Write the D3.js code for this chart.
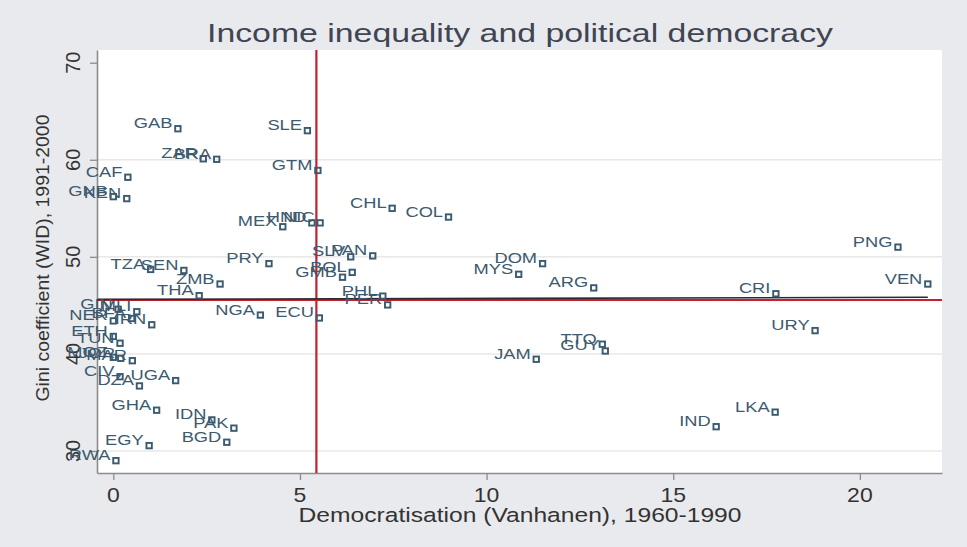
<!DOCTYPE html>
<html>
<head>
<meta charset="utf-8">
<title>Income inequality and political democracy</title>
<style>
body { margin: 0; background: #e9eaed; }
text { font-family: "Liberation Sans", Arial, sans-serif; }
</style>
</head>
<body>
<svg id="chart" width="967" height="547"></svg>
<script src="https://d3js.org/d3.v7.min.js"></script>
<script>
// country codes, democratisation 1960-1990 (x) and gini 1991-2000 (y)
var countries = ["GAB","SLE","ZAR","BRA","GTM","CAF","GNB","KEN","CHL","COL",
                 "MEX","HND","NIC","PNG","SLV","PAN","DOM","PRY","TZA","SEN",
                 "BOL","MYS","GMB","ZMB","ARG","VEN","CRI","THA","PHL","PER",
                 "NGA","ECU","GIN","MLI","NER","BFA","IRN","URY","TTO","GUY",
                 "ETH","TUN","MOZ","JOR","MAR","JAM","CIV","UGA","DZA","GHA",
                 "LKA","IDN","PAK","IND","BGD","EGY","RWA"];
var democ = [1.73, 5.20, 2.41, 2.77, 5.48, 0.39, 0.00, 0.36, 7.47, 8.98,
             4.54, 5.32, 5.54, 21.02, 6.36, 6.95, 11.50, 4.17, 1.00, 1.89,
             6.40, 10.86, 6.14, 2.86, 12.87, 21.82, 17.75, 2.30, 7.22, 7.35,
             3.94, 5.52, 0.13, 0.63, 0.00, 0.49, 1.03, 18.80, 13.10, 13.18,
             0.00, 0.18, 0.00, 0.20, 0.51, 11.33, 0.18, 1.67, 0.70, 1.16,
             17.73, 2.64, 3.23, 16.15, 3.04, 0.96, 0.07];
var gini = [63.2, 63.0, 60.1, 60.05, 58.9, 58.2, 56.2, 56.0, 55.0, 54.1,
            53.1, 53.5, 53.5, 51.0, 50.0, 50.1, 49.3, 49.3, 48.7, 48.6,
            48.4, 48.2, 47.9, 47.2, 46.8, 47.2, 46.2, 46.0, 45.95, 45.05,
            44.0, 43.7, 44.6, 44.35, 43.4, 43.65, 43.0, 42.4, 41.0, 40.3,
            41.8, 41.1, 39.65, 39.55, 39.3, 39.45, 37.65, 37.25, 36.7, 34.2,
            34.0, 33.2, 32.35, 32.5, 30.9, 30.55, 29.0];

// reference lines: means and linear fit
var meanDemoc = 5.44;
var meanGini = 45.55;
var fitX = [-0.42, 21.82];
var fitY = [45.62, 45.83];

var xTicks = [0, 5, 10, 15, 20];
var yTicks = [30, 40, 50, 60, 70];
var yGrid = [30, 40, 50, 60];

var svg = d3.select("#chart");
var pLeft = 97, pRight = 942, pTop = 50, pBottom = 473;

var x = d3.scaleLinear().domain([-0.437, 22.2]).range([pLeft, pRight]);
var y = d3.scaleLinear().domain([27.73, 71.31]).range([pBottom, pTop]);

svg.append("rect").attr("width", 967).attr("height", 547).attr("fill", "#e9eaed");
svg.append("rect")
    .attr("x", pLeft).attr("y", pTop)
    .attr("width", pRight - pLeft).attr("height", pBottom - pTop)
    .attr("fill", "#ffffff");

// gridlines
svg.selectAll(".grid")
    .data(yGrid)
    .enter().append("line")
    .attr("x1", pLeft).attr("x2", pRight)
    .attr("y1", d => y(d)).attr("y2", d => y(d))
    .style("stroke", "#e8e8e8")
    .style("stroke-width", 1.5);

// axes
var xAxis = svg.append("g")
    .attr("transform", `translate(0,${pBottom})`)
    .call(d3.axisBottom(x).tickValues(xTicks).tickSize(7).tickFormat("").tickSizeOuter(0));
var yAxis = svg.append("g")
    .attr("transform", `translate(${pLeft},0)`)
    .call(d3.axisLeft(y).tickValues(yTicks).tickSize(7).tickFormat("").tickSizeOuter(0));
[xAxis, yAxis].forEach(function(a) {
    a.select(".domain").style("stroke", "#8c8c8c").style("stroke-width", 1.6);
    a.selectAll(".tick line").style("stroke", "#8c8c8c").style("stroke-width", 1.3);
});

svg.selectAll(".xlab")
    .data(xTicks)
    .enter().append("text")
    .attr("transform", d => `translate(${x(d)},502) scale(1.15,1)`)
    .attr("text-anchor", "middle")
    .style("font-size", "20px")
    .style("fill", "#333333")
    .text(d => d);

svg.selectAll(".ylab")
    .data(yTicks)
    .enter().append("text")
    .attr("transform", d => `translate(80,${y(d)}) rotate(-90)`)
    .attr("text-anchor", "middle")
    .style("font-size", "20px")
    .style("fill", "#333333")
    .text(d => d);

// red mean lines
svg.append("line")
    .attr("x1", x(meanDemoc)).attr("x2", x(meanDemoc))
    .attr("y1", pTop).attr("y2", pBottom)
    .style("stroke", "#c4202e").style("stroke-width", 2.2);
svg.append("line")
    .attr("x1", pLeft).attr("x2", pRight)
    .attr("y1", y(meanGini)).attr("y2", y(meanGini))
    .style("stroke", "#c4202e").style("stroke-width", 2);

// fitted line
svg.append("line")
    .attr("x1", x(fitX[0])).attr("x2", x(fitX[1]))
    .attr("y1", y(fitY[0])).attr("y2", y(fitY[1]))
    .style("stroke", "#2b2b2b").style("stroke-width", 1.6);

var pts = countries.map((c, i) => ({code: c, dx: democ[i], gy: gini[i]}));

// markers
svg.selectAll(".pt")
    .data(pts)
    .enter().append("rect")
    .attr("x", d => x(d.dx) - 2.7)
    .attr("y", d => y(d.gy) - 2.7)
    .attr("width", 5.4).attr("height", 5.4)
    .style("fill", "none")
    .style("stroke", "#3a5a6e")
    .style("stroke-width", 1.9);

// labels, to the left of each marker
svg.selectAll(".lab")
    .data(pts)
    .enter().append("text")
    .attr("transform", d => `translate(${x(d.dx) - 5.5},${y(d.gy) - 0.5}) scale(1.18,1)`)
    .attr("text-anchor", "end")
    .style("font-size", "15.5px")
    .style("fill", "#3d5a6f")
    .text(d => d.code);

// titles
svg.append("text")
    .attr("x", 520).attr("y", 42)
    .attr("text-anchor", "middle")
    .attr("textLength", 626).attr("lengthAdjust", "spacingAndGlyphs")
    .style("font-size", "26.5px")
    .style("fill", "#3f4553")
    .text("Income inequality and political democracy");

svg.append("text")
    .attr("x", 520).attr("y", 522)
    .attr("text-anchor", "middle")
    .attr("textLength", 443).attr("lengthAdjust", "spacingAndGlyphs")
    .style("font-size", "20.5px")
    .style("fill", "#333333")
    .text("Democratisation (Vanhanen), 1960-1990");

svg.append("text")
    .attr("transform", "translate(49,258) rotate(-90)")
    .attr("text-anchor", "middle")
    .attr("textLength", 287).attr("lengthAdjust", "spacingAndGlyphs")
    .style("font-size", "18.5px")
    .style("fill", "#333333")
    .text("Gini coefficient (WID), 1991-2000");
</script>
</body>
</html>
